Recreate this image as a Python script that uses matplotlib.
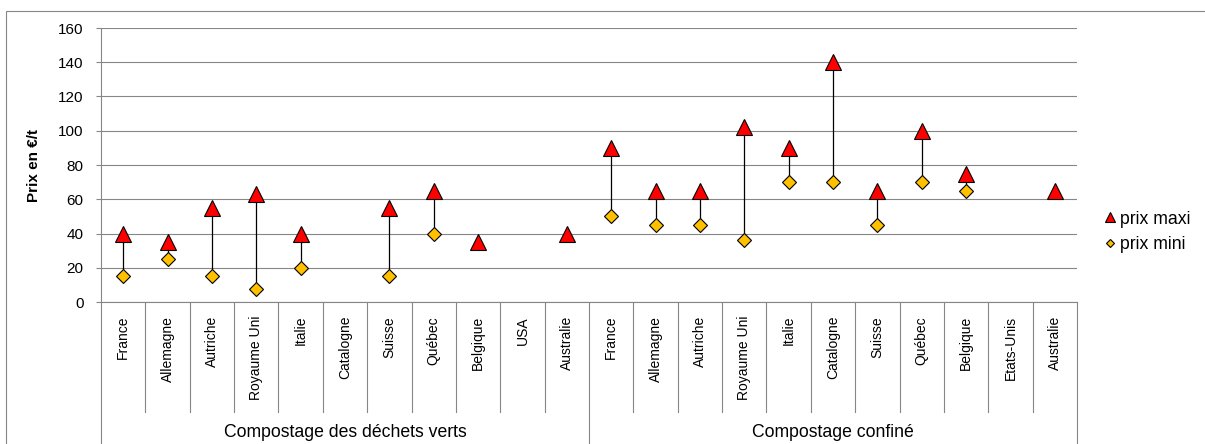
import numpy as np
import matplotlib
matplotlib.use("Agg")
import matplotlib.pyplot as plt
from matplotlib.transforms import blended_transform_factory
from matplotlib.patches import Rectangle

plt.rcParams['font.family'] = ['Liberation Sans', 'DejaVu Sans']

# data (nan = no value)
pays_verts = ['France', 'Allemagne', 'Autriche', 'Royaume Uni', 'Italie', 'Catalogne',
              'Suisse', 'Québec', 'Belgique', 'USA', 'Australie']
pays_confine = ['France', 'Allemagne', 'Autriche', 'Royaume Uni', 'Italie', 'Catalogne',
                'Suisse', 'Québec', 'Belgique', 'Etats-Unis', 'Australie']
groupes = ['Compostage des déchets verts', 'Compostage confiné']

maxi_verts = [40, 35, 55, 63, 40, np.nan, 55, 65, 35, np.nan, 40]
mini_verts = [15, 25, 15, 7.5, 20, np.nan, 15, 40, np.nan, np.nan, np.nan]
maxi_confine = [90, 65, 65, 102, 90, 140, 65, 100, 75, np.nan, 65]
mini_confine = [50, 45, 45, 36, 70, 70, 45, 70, 65, np.nan, np.nan]

labels = pays_verts + pays_confine
maxi = np.array(maxi_verts + maxi_confine, dtype=float)
mini = np.array(mini_verts + mini_confine, dtype=float)
x = np.arange(len(labels))

W, H = 1205, 444
fig = plt.figure(figsize=(W / 100, H / 100), dpi=100)
ax = fig.add_axes([101 / W, 1 - 302 / H, (1077 - 101) / W, (302 - 28) / H])

grey = '#868686'

# outer chart border (right and bottom run off the picture)
fig.patches.append(Rectangle((5.5 / W, -0.1), 1.2, 1 - 11 / H + 0.1, transform=fig.transFigure,
                             fill=False, edgecolor=grey, linewidth=0.8))

# high-low lines
both = ~np.isnan(maxi) & ~np.isnan(mini)
ax.vlines(x[both], mini[both], maxi[both], color='black', linewidth=0.9, zorder=3)

ax.plot(x, maxi, linestyle='none', marker='^', markersize=11.5, markerfacecolor='#FF0000',
        markeredgecolor='black', markeredgewidth=0.8, zorder=4, label='prix maxi')
ax.plot(x, mini, linestyle='none', marker='D', markersize=7.2, markerfacecolor='#FFC000',
        markeredgecolor='black', markeredgewidth=0.8, zorder=5, label='prix mini')

ax.set_xlim(-0.5, len(labels) - 0.5)
ax.set_ylim(0, 160)
ax.set_yticks(range(0, 161, 20))
ax.yaxis.grid(True, color=grey, linewidth=0.8)
ax.set_axisbelow(True)
for s in ['top', 'right']:
    ax.spines[s].set_visible(False)
for s in ['left', 'bottom']:
    ax.spines[s].set_color(grey)
    ax.spines[s].set_linewidth(0.8)
ax.tick_params(axis='y', length=3.6, color=grey, width=0.8, pad=9, labelsize=11)
ax.set_xticks(x)
ax.set_xticklabels(labels, rotation=90, va='top', fontsize=10)
ax.tick_params(axis='x', length=0, pad=10)

ax.set_ylabel('Prix en €/t', fontsize=11, fontweight='bold')
ax.yaxis.set_label_coords(-(101 - 41) / (1077 - 101), 0.5)

# category boxes below the axis
tr = blended_transform_factory(ax.transData, fig.transFigure)
for k in range(len(labels) + 1):
    xs = k - 0.5
    if k in (0, len(pays_verts), len(labels)):
        y0 = -0.01
    else:
        y0 = 1 - 412 / H
    ax.plot([xs, xs], [1 - 302 / H, y0], transform=tr, color=grey, linewidth=0.8,
            clip_on=False)

centres = [(len(pays_verts) - 1) / 2, len(pays_verts) + (len(pays_confine) - 1) / 2]
for c, g in zip(centres, groupes):
    fig.text(c, 1 - 432 / H, g, transform=tr, ha='center', va='center', fontsize=12.7)

ax.legend(loc='center left', bbox_to_anchor=(1104 / W, 1 - 232 / H),
          bbox_transform=fig.transFigure, frameon=False, fontsize=12.7,
          markerscale=0.6, handlelength=0.7, handletextpad=0.2, borderpad=0,
          borderaxespad=0, labelspacing=0.5)

fig.savefig('out.png', dpi=100)
